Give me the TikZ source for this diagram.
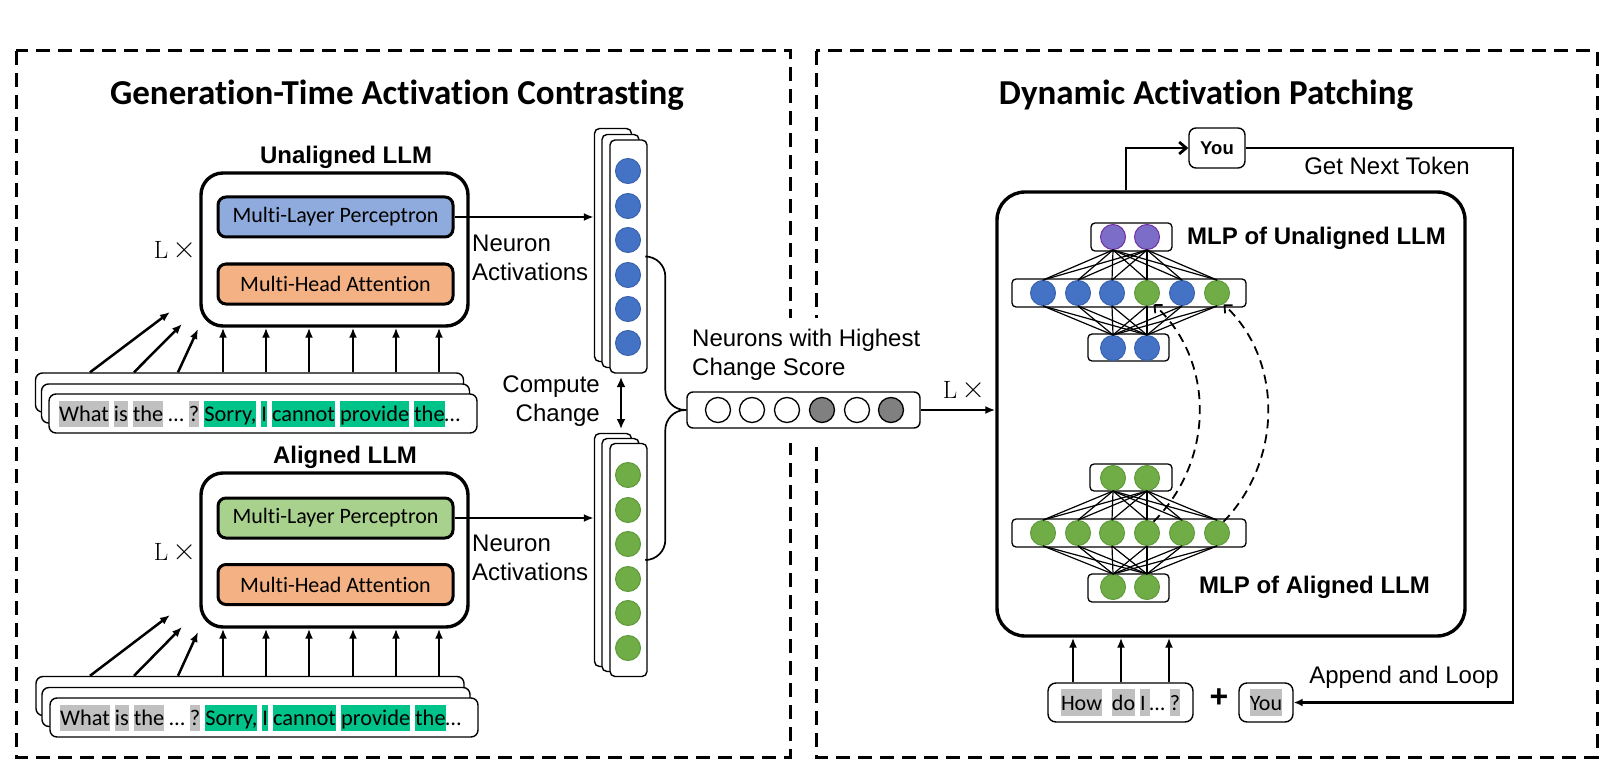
\documentclass[tikz,border=0pt]{standalone}
\usepackage{fontspec}
\newfontfamily\calibri[Ligatures=NoCommon]{Carlito}
\newfontfamily\arial{Liberation Sans}
\usetikzlibrary{arrows.meta}
\definecolor{mlpblue}{HTML}{8FAADC}
\definecolor{mlpgreen}{HTML}{A9D18E}
\definecolor{mhaorange}{HTML}{F4B183}
\definecolor{cblue}{HTML}{4472C4}
\definecolor{cbluedk}{HTML}{3A62AE}
\definecolor{cgreen}{HTML}{70AD47}
\definecolor{cgreendk}{HTML}{5E9A3A}
\definecolor{cpurple}{HTML}{7B6DC8}
\definecolor{cpurpledk}{HTML}{7030A0}
\definecolor{tokgray}{HTML}{C0C0C0}
\definecolor{tokgreen}{HTML}{00C389}
\definecolor{cgray}{HTML}{808080}
\newcommand\hlg[1]{{\setlength{\fboxsep}{0pt}\colorbox{tokgray}{\rule[-5.5pt]{0pt}{26.5pt}#1}}}
\newcommand\hlt[1]{{\setlength{\fboxsep}{0pt}\colorbox{tokgreen}{\rule[-5.5pt]{0pt}{26.5pt}#1}}}
\newcommand\Lx{L\,{\fontsize{33}{33}\selectfont ×}}
\begin{document}
\begin{tikzpicture}[x=1pt,y=-1pt,
  dashframe/.style={draw, line width=3, dash pattern=on 14pt off 8pt},
  title/.style={font=\calibri\bfseries\fontsize{35}{40}\selectfont, inner sep=0},
  llmbox/.style={draw, line width=3.4, rounded corners=22, minimum width=267, minimum height=153, inner sep=0},
  layerbox/.style={draw, line width=3, rounded corners=8, minimum width=235, minimum height=40, inner sep=0, font=\calibri\fontsize{22}{26}\selectfont},
  tokbox/.style={draw, line width=1.4, rounded corners=7, fill=white, minimum width=428, minimum height=39, inner sep=0},
  toktext/.style={font=\calibri\fontsize{22.4}{26}\selectfont, inner sep=0},
  tokbox2/.style={draw, line width=1.4, rounded corners=8, fill=white, minimum width=145, minimum height=39, inner sep=0, font=\calibri\fontsize{22}{26}\selectfont},
  panel/.style={draw, line width=1.4, rounded corners=5, fill=white, minimum width=37, minimum height=233, inner sep=0},
  neuron/.style={circle, minimum size=25, inner sep=0, line width=1},
  nb/.style={neuron, fill=cblue, draw=cbluedk},
  ng/.style={neuron, fill=cgreen, draw=cgreendk},
  np/.style={neuron, fill=cpurple, draw=cpurpledk},
  nwht/.style={neuron, fill=white, draw=black, line width=1.3},
  nblk/.style={neuron, fill=cgray, draw=black, line width=1.3},
  rowbox/.style={draw, line width=1.3, rounded corners=4, fill=white, inner sep=0},
  conn/.style={line width=1.2},
  lbl/.style={font=\arial\fontsize{24}{29}\selectfont, inner sep=0},
  lblb/.style={font=\arial\bfseries\fontsize{24}{29}\selectfont, inner sep=0},
  lx/.style={font=\fontsize{25}{30}\selectfont, inner sep=0},
  arr/.style={line width=2.5, -{Latex[length=10pt,width=8pt]}},
  dblarr/.style={line width=2.6, {Latex[length=10pt,width=9pt]}-{Latex[length=10pt,width=9pt]}},
  barbarr/.style={line width=2.8, -{Straight Barb[length=7pt,width=12pt]}},
  dasharr/.style={line width=1.8, dash pattern=on 9pt off 6pt, -{Straight Barb[length=6pt,width=11pt]}}
]
\useasboundingbox (0,0) rectangle (1620,770);
% frames
\draw[dashframe] (16,51) rectangle (790,757);
\draw[dashframe] (816,51) rectangle (1597,757);
\fill[white] (778,318) rectangle (830,443);
\node[title] (t1) at (397,95) {Generation-Time Activation Contrasting};
\node[title] (t2) at (1206,95) {Dynamic Activation Patching};

% ---------- Unaligned LLM ----------
\node[llmbox] (llmU) at (334.5,249.5) {};
\node[layerbox, fill=mlpblue] (mlpU) at (335.5,217) {Multi-Layer Perceptron};
\node[layerbox, fill=mhaorange] (mhaU) at (335.5,284) {Multi-Head Attention};
\node[lblb] (labU) at (346,157) {Unaligned LLM};
\node[lx] (lxU) at (175,250) {\Lx};
\node[tokbox] (tUb) at (249.5,392.5) {};
\node[tokbox] (tUm) at (255.5,403.5) {};
\node[tokbox] (tUf) at (263,413.5) {};
\node[toktext, anchor=base west] (txtU) at (59,421.5) {\hlg{What} \hlg{is} \hlg{the} … \hlg{?} \hlt{Sorry,} \hlt{I} \hlt{cannot} \hlt{provide} \hlt{the}…};
\foreach \x in {223,266,309,353,396,439} \draw[arr] (tUb.north -| \x,0) -- (llmU.south -| \x,0);
\coordinate (dgU1) at (170,312);
\coordinate (dgU2) at (182,324);
\coordinate (dgU3) at (198,329);
\draw[arr] (tUb.north -| 90,0) -- (dgU1);
\draw[arr] (tUb.north -| 134,0) -- (dgU2);
\draw[arr] (tUb.north -| 178,0) -- (dgU3);

% ---------- Aligned LLM ----------
\node[llmbox, minimum height=154] (llmA) at (334.5,550) {};
\node[layerbox, fill=mlpgreen] (mlpA) at (335.5,518) {Multi-Layer Perceptron};
\node[layerbox, fill=mhaorange] (mhaA) at (335.5,584.5) {Multi-Head Attention};
\node[lblb] (labA) at (345,457) {Aligned LLM};
\node[lx] (lxA) at (175,552) {\Lx};
\node[tokbox] (tAb) at (250,696) {};
\node[tokbox] (tAm) at (256,707) {};
\node[tokbox] (tAf) at (264,717.5) {};
\node[toktext, anchor=base west] (txtA) at (60,725.5) {\hlg{What} \hlg{is} \hlg{the} … \hlg{?} \hlt{Sorry,} \hlt{I} \hlt{cannot} \hlt{provide} \hlt{the}…};
\foreach \x in {223,266,309,353,396,439} \draw[arr] (tAb.north -| \x,0) -- (llmA.south -| \x,0);
\coordinate (dgA1) at (170,615);
\coordinate (dgA2) at (182,627);
\coordinate (dgA3) at (198,632);
\draw[arr] (tAb.north -| 90,0) -- (dgA1);
\draw[arr] (tAb.north -| 134,0) -- (dgA2);
\draw[arr] (tAb.north -| 178,0) -- (dgA3);

% ---------- columns ----------
\node[panel] (cUb) at (613,245) {};
\node[panel] (cUm) at (620.5,251) {};
\node[panel] (cUf) at (628.5,256.5) {};
\foreach \i/\y in {1/171,2/206,3/240,4/275,5/309,6/343} \node[nb] (cu\i) at (628,\y) {};
\node[panel] (cAb) at (613,550) {};
\node[panel] (cAm) at (620.5,555) {};
\node[panel] (cAf) at (628.5,560) {};
\foreach \i/\y in {1/475,2/510,3/544,4/579,5/613,6/648} \node[ng] (ca\i) at (628,\y) {};
\draw[arr] (mlpU.east) -- (mlpU.east -| cUb.west);
\draw[arr] (mlpA.east) -- (mlpA.east -| cAb.west);
\node[lbl, align=left, anchor=west] (naU) at (472,257.5) {Neuron\\Activations};
\node[lbl, align=left, anchor=west] (naA) at (472,557.5) {Neuron\\Activations};
\node[lbl, align=right, anchor=east] (cc) at (600,401.5) {Compute\\Change};
\coordinate (dA) at (621,377);
\coordinate (dB) at (621,429);
\draw[dblarr] (dA) -- (dB);

% ---------- change box ----------
\node[draw, line width=1.4, rounded corners=6, fill=white, minimum width=233, minimum height=36, inner sep=0] (chg) at (803.5,410) {};
\node[nwht] (ch1) at (718,410) {};
\node[nwht] (ch2) at (752,410) {};
\node[nwht] (ch3) at (787,410) {};
\node[nblk] (ch4) at (822,410) {};
\node[nwht] (ch5) at (857,410) {};
\node[nblk] (ch6) at (891,410) {};
\node[lbl, align=left, anchor=west] (nhc) at (692,355) {Neurons with Highest\\Change Score};
\draw[line width=1.7, rounded corners=20] (cUf.east) -| ([xshift=-21pt]chg.west) -- (chg.west);
\draw[line width=1.7, rounded corners=20] (cAf.east) -| ([xshift=-21pt]chg.west) -- (chg.west);

% ---------- right ----------
\node[draw, line width=3.4, rounded corners=28, minimum width=468, minimum height=444, inner sep=0] (big) at (1231,414) {};
\draw[arr] (chg.east) -- (chg.east -| big.west);
\node[lx] (lxR) at (964,390) {\Lx};
\node[draw, line width=1.4, rounded corners=7, minimum width=56, minimum height=40, inner sep=0, font=\arial\bfseries\fontsize{18.5}{22}\selectfont] (youT) at (1217,148) {You};
\draw[barbarr] (big.north -| 1126,0) |- (youT.west);
\node[tokbox2] (howB) at (1120.5,702.5) {\hlg{How}\hspace{10pt}\hlg{do} \hlg{I\hspace{4pt}}… \hlg{?}};
\node[tokbox2, minimum width=54] (youB) at (1266,702.5) {\hlg{You}};
\node[font=\arial\bfseries\fontsize{32}{32}\selectfont, inner sep=0] (plus) at (1219,698) {+};
\coordinate (loopR) at (1513,420);
\draw[line width=2.8, -{Latex[length=9pt,width=8pt]}] (youT.east) -| (loopR) |- (youB.east);
\node[lbl] (gnt) at (1387,166) {Get Next Token};
\node[lbl] (aal) at (1404,677) {Append and Loop};
\foreach \x in {1073,1121,1169} \draw[arr] (howB.north -| \x,0) -- (big.south -| \x,0);

% MLP unaligned
\node[rowbox, minimum width=81, minimum height=28] (rUt) at (1131.5,237) {};
\node[rowbox, minimum width=234, minimum height=28] (rUm) at (1129,293) {};
\node[rowbox, minimum width=81, minimum height=27] (rUb) at (1128.5,347.5) {};
\node[np] (ut1) at (1113,237) {};
\node[np] (ut2) at (1147,237) {};
\node[nb] (u1) at (1043,293) {};
\node[nb] (u2) at (1078,293) {};
\node[nb] (u3) at (1112,293) {};
\node[ng] (u4) at (1147,293) {};
\node[nb] (u5) at (1182,293) {};
\node[ng] (u6) at (1217,293) {};
\node[nb] (ub1) at (1113,348) {};
\node[nb] (ub2) at (1147,348) {};
\foreach \t in {1,2} \foreach \m in {1,...,6} \draw[conn] (ut\t.south) -- (u\m.north);
\foreach \m in {1,...,6} \foreach \b in {1,2} \draw[conn] (u\m.south) -- (ub\b.north);
\node[lblb, anchor=west] (mlpUl) at (1187,238) {MLP of Unaligned LLM};

% MLP aligned
\node[rowbox, minimum width=82, minimum height=27] (rAt) at (1131,477.5) {};
\node[rowbox, minimum width=234, minimum height=28] (rAm) at (1129,533) {};
\node[rowbox, minimum width=81, minimum height=28] (rAb) at (1128.5,588) {};
\node[ng] (at1) at (1113,478) {};
\node[ng] (at2) at (1147,478) {};
\node[ng] (a1) at (1043,533) {};
\node[ng] (a2) at (1078,533) {};
\node[ng] (a3) at (1112,533) {};
\node[ng] (a4) at (1147,533) {};
\node[ng] (a5) at (1182,533) {};
\node[ng] (a6) at (1217,533) {};
\node[ng] (ab1) at (1113,587) {};
\node[ng] (ab2) at (1147,587) {};
\foreach \t in {1,2} \foreach \m in {1,...,6} \draw[conn] (at\t.south) -- (a\m.north);
\foreach \m in {1,...,6} \foreach \b in {1,2} \draw[conn] (a\m.south) -- (ab\b.north);
\node[lblb, anchor=west] (mlpAl) at (1199,587) {MLP of Aligned LLM};

\draw[dasharr] (a4.60) .. controls (1215,460) and (1215,360) .. (u4.-60);
\draw[dasharr] (a6.60) .. controls (1283,460) and (1283,360) .. (u6.-60);
\end{tikzpicture}
\end{document}
